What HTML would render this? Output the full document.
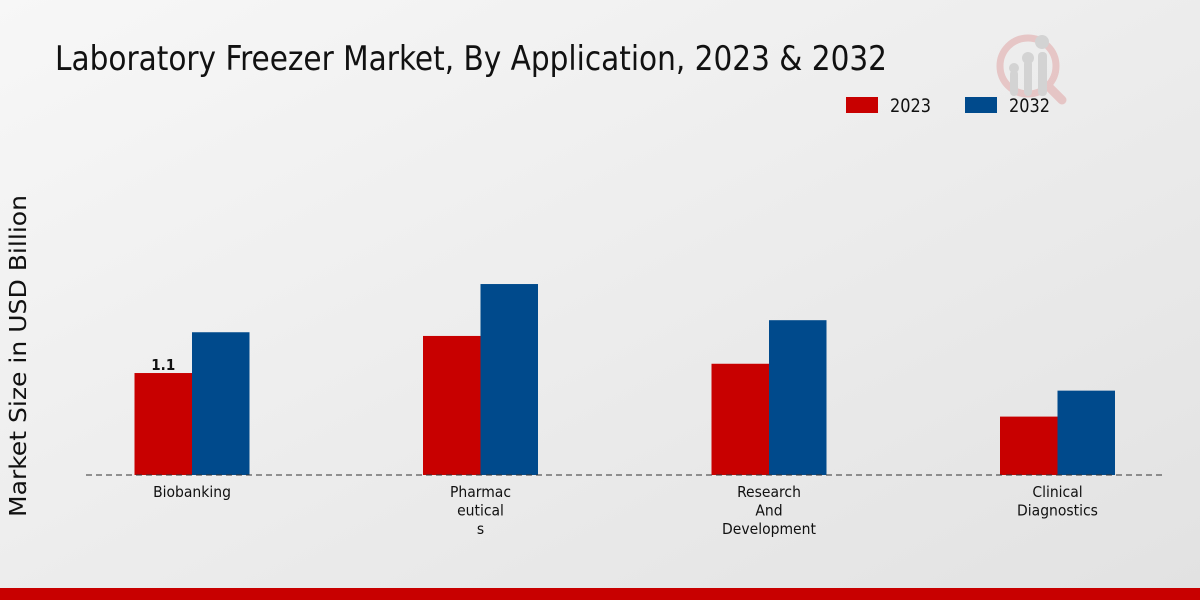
<!DOCTYPE html>
<html><head><meta charset="utf-8"><style>
body{margin:0;width:1200px;height:600px;overflow:hidden;font-family:"DejaVu Sans Condensed","Liberation Sans Narrow","DejaVu Sans",sans-serif;font-stretch:condensed}
</style></head><body>
<svg id="chart" width="1200" height="600" xmlns="http://www.w3.org/2000/svg">
<defs><linearGradient id="bg" x1="0" y1="0" x2="1" y2="1"><stop offset="0" stop-color="#f7f7f7"/><stop offset="1" stop-color="#e2e2e2"/></linearGradient></defs>
<rect width="1200" height="600" fill="url(#bg)"/>
<text x="55" y="70" font-size="34" textLength="832" lengthAdjust="spacingAndGlyphs" fill="#111">Laboratory Freezer Market, By Application, 2023 &amp; 2032</text>
<g opacity="0.5">
<circle cx="1028" cy="66" r="28" fill="none" stroke="#e0a0a0" stroke-width="7"/>
<line x1="1048" y1="86" x2="1062" y2="100" stroke="#e0a0a0" stroke-width="9" stroke-linecap="round"/>
<rect x="1010" y="70" width="8" height="26" rx="4" fill="#bbb"/><rect x="1024" y="60" width="8" height="36" rx="4" fill="#bbb"/><rect x="1038" y="52" width="9" height="44" rx="4" fill="#bbb"/>
<circle cx="1042" cy="42" r="7" fill="#bbb"/><circle cx="1028" cy="58" r="6" fill="#bbb"/><circle cx="1014" cy="68" r="5" fill="#bbb"/>
</g>
<g>
<rect x="846" y="97" width="32" height="16" fill="#c80000"/>
<text x="890" y="112" font-size="19" textLength="41" lengthAdjust="spacingAndGlyphs" fill="#111">2023</text>
<rect x="965" y="97" width="32" height="16" fill="#004a8c"/>
<text x="1009" y="112" font-size="19" textLength="41" lengthAdjust="spacingAndGlyphs" fill="#111">2032</text>
</g>
<text transform="translate(26,356) rotate(-90)" text-anchor="middle" font-size="23" textLength="322" lengthAdjust="spacingAndGlyphs" fill="#111">Market Size in USD Billion</text>
<g id="plot"></g>
<line x1="86" y1="475" x2="1163" y2="475" stroke="#333" stroke-dasharray="6,4"/>
<rect x="0" y="588" width="1200" height="12" fill="#c80000"/>
</svg>
<script>
const categories=[["Biobanking"],["Pharmac","eutical","s"],["Research","And","Development"],["Clinical","Diagnostics"]];
const values2023=[1.1,1.5,1.2,0.63];
const values2032=[1.54,2.06,1.67,0.91];
const labels2023=["1.1","","",""];
const NS="http://www.w3.org/2000/svg";
const g=document.getElementById('plot');
const base=475,scale=92.7;
const xC=i=>192+i*288.5;
const y=v=>base-v*scale;
const bw=57.5;
function mk(t,a){const e=document.createElementNS(NS,t);for(const k in a)e.setAttribute(k,a[k]);g.appendChild(e);return e;}
categories.forEach((c,i)=>{
 const r1=mk('rect',{x:xC(i)-bw,y:y(values2023[i]),width:bw,height:values2023[i]*scale,fill:'#c80000'});
 
 
 const r2=mk('rect',{x:xC(i),y:y(values2032[i]),width:bw,height:values2032[i]*scale,fill:'#004a8c'});
 
 
 if(labels2023[i]){const t=mk('text',{x:xC(i)-bw/2,y:y(values2023[i])-3,'text-anchor':'middle','font-size':15,'font-weight':'bold',fill:'#111'});t.textContent=labels2023[i];
 
 }
 c.forEach((line,j)=>{const t=mk('text',{x:xC(i),y:497+j*18.5,'text-anchor':'middle','font-size':15.5,fill:'#111'});t.textContent=line;
 
 });
});
</script>
</body></html>
